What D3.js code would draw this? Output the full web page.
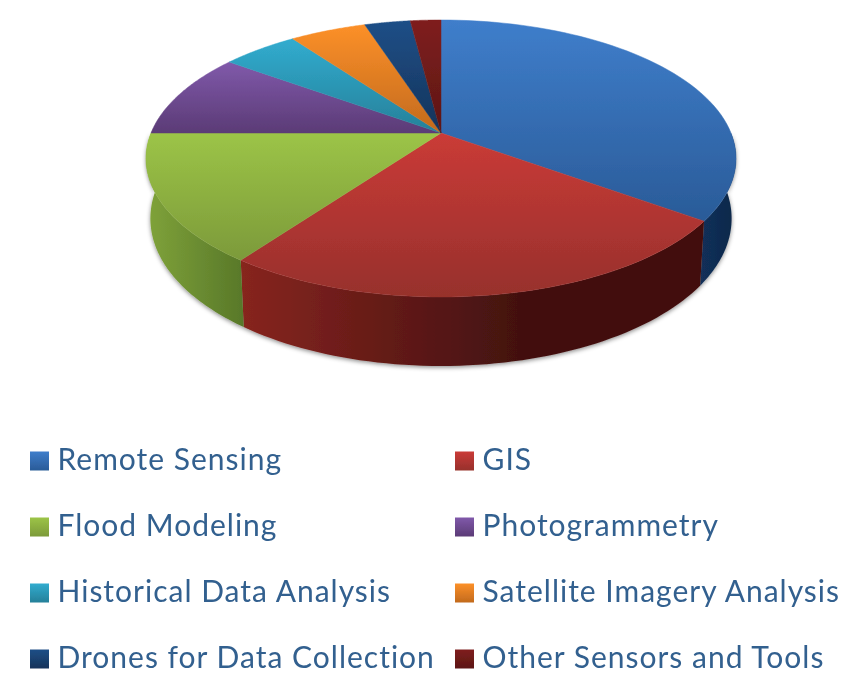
<!DOCTYPE html>
<html>
<head>
<meta charset="utf-8">
<script src="https://cdn.jsdelivr.net/npm/d3@7"></script>
<style>
  html, body { margin: 0; padding: 0; background: #fff; }
  svg { display: block; }
  .legendText { font-family: Lato, sans-serif; font-size: 30px; fill: #33608f; letter-spacing: 1px; }
</style>
</head>
<body>
<div id="scene"></div>
<script>
var categories = ["Remote Sensing", "GIS", "Flood Modeling", "Photogrammetry",
  "Historical Data Analysis", "Satellite Imagery Analysis", "Drones for Data Collection", "Other Sensors and Tools"];
var shares = [35, 25, 15, 10, 5, 5, 3, 2];

var topLight = ["#3f7ecb", "#ca3b37", "#9cc447", "#8059aa", "#31accf", "#fc9029", "#1f4f87", "#7f1f1e"];
var topDark = ["#2a5b98", "#97302c", "#7c9a3a", "#5b3b76", "#268099", "#c26a1d", "#14335a", "#5c1614"];
var wallLight = ["#12305a", "#87251f", "#80a33a", "#5b3b76", "#268099", "#c26a1d", "#14335a", "#5c1614"];
var wallDark = ["#0f2849", "#431110", "#587829", "#5b3b76", "#268099", "#c26a1d", "#14335a", "#5c1614"];

var ctx = {
  w: 847,
  h: 673,
  cx: 441,
  cy: 133,
  a: 290,   // x radius
  b: 133.8, // y radius
  k: 0.184  // perspective
};

// pie angle (0 at the top, clockwise) to screen, the near side of the disc is larger
var project = function(angle) {
  var X = Math.sin(angle), Y = -Math.cos(angle);
  var d = 1 - ctx.k * Y;
  return [ctx.cx + ctx.a * X / d, ctx.cy + ctx.b * Y / d];
};

// same rim, at the bottom of the disc
var projectLow = function(angle) {
  var p = project(angle);
  var Y = -Math.cos(angle);
  return [ctx.cx + (p[0] - ctx.cx) * 0.985, p[1] + 58 + 11 * Y];
};

var arcAngles = function(a0, a1) {
  return d3.range(0, 61).map(function(i) { return a0 + (a1 - a0) * i / 60; });
};

var svgEl = d3.select("#scene").append("svg")
  .attr("width", ctx.w)
  .attr("height", ctx.h);

var defs = svgEl.append("defs");

var soft = defs.append("filter").attr("id", "soft")
  .attr("x", "-5%").attr("y", "-5%").attr("width", "110%").attr("height", "110%");
soft.append("feGaussianBlur").attr("stdDeviation", 0.6);

var shadow = defs.append("filter").attr("id", "wallShadow")
  .attr("x", "-5%").attr("y", "-5%").attr("width", "110%").attr("height", "115%");
shadow.append("feDropShadow").attr("dx", 0).attr("dy", 1.5).attr("stdDeviation", 2.2)
  .attr("flood-color", "#000").attr("flood-opacity", 0.45);

categories.forEach(function(c, i) {
  var g = defs.append("linearGradient").attr("id", "top" + i)
    .attr("x1", 0).attr("y1", 0).attr("x2", 0).attr("y2", 1);
  g.append("stop").attr("offset", 0).attr("stop-color", topLight[i]);
  g.append("stop").attr("offset", 1).attr("stop-color", topDark[i]);

  var w = defs.append("linearGradient").attr("id", "wall" + i)
    .attr("x1", 0).attr("y1", 0).attr("x2", 1).attr("y2", 0);
  w.append("stop").attr("offset", 0).attr("stop-color", wallLight[i]);
  w.append("stop").attr("offset", i == 1 ? 0.6 : 1).attr("stop-color", wallDark[i]);
  w.append("stop").attr("offset", 1).attr("stop-color", wallDark[i]);
});

var slices = d3.pie().sort(null).value(function(d) { return d; })(shares);
var line = d3.line();

var pie = svgEl.append("g").attr("filter", "url(#soft)");

// walls first, only the near half of the rim shows
var walls = pie.append("g").attr("filter", "url(#wallShadow)");
slices.forEach(function(s, i) {
  var a0 = Math.max(s.startAngle, Math.PI / 2);
  var a1 = Math.min(s.endAngle, Math.PI * 3 / 2);
  if (a1 <= a0) return;
  var angles = arcAngles(a0, a1);
  var pts = angles.map(project).concat(angles.slice().reverse().map(projectLow));
  walls.append("path")
    .attr("d", line(pts) + "Z")
    .attr("fill", "url(#wall" + i + ")");
});

var faces = pie.append("g");
slices.forEach(function(s, i) {
  var pts = [[ctx.cx, ctx.cy]].concat(arcAngles(s.startAngle, s.endAngle).map(project));
  faces.append("path")
    .attr("d", line(pts) + "Z")
    .attr("fill", "url(#top" + i + ")")
    .attr("stroke", "url(#top" + i + ")")
    .attr("stroke-width", 0.5);
});

// legend, two columns
var colX = d3.scalePoint().domain([0, 1]).range([30, 455]);
var rowY = d3.scalePoint().domain([0, 1, 2, 3]).range([461, 659]);

var legend = svgEl.append("g").attr("filter", "url(#soft)");
categories.forEach(function(c, i) {
  var x = colX(i % 2), y = rowY(Math.floor(i / 2));
  legend.append("rect")
    .attr("x", x).attr("y", y - 9.5)
    .attr("width", 19).attr("height", 19)
    .attr("fill", "url(#top" + i + ")");
  legend.append("text")
    .attr("class", "legendText")
    .attr("x", x + 27.5).attr("y", y + 9)
    .text(c);
});
</script>
</body>
</html>
